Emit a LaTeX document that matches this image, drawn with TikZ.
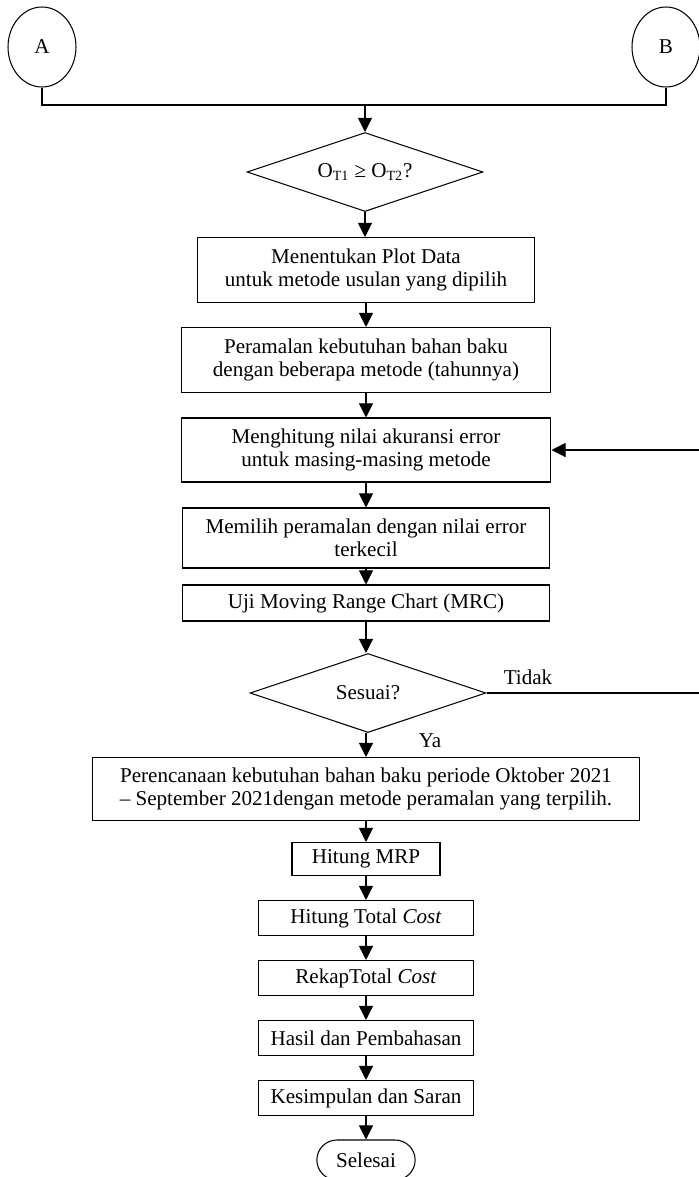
\documentclass[tikz,border=0pt]{standalone}
\usepackage{fontspec}
\setmainfont{Liberation Serif}
\usetikzlibrary{positioning,shapes,shapes.geometric,shapes.misc,arrows.meta,calc}

\tikzset{
	proses/.style={draw, rectangle, align=center, inner sep=1pt, line width=0.6pt},
	keputusan/.style={draw, diamond, aspect=3, inner sep=0pt, line width=0.6pt, minimum width=4.72cm, minimum height=1.58cm},
	konektor/.style={draw, ellipse, minimum width=1.36cm, minimum height=1.6cm, line width=0.6pt},
	terminal/.style={draw, rounded rectangle, line width=0.6pt, minimum width=2.2cm, minimum height=0.8cm},
	panah/.style={-{Triangle[length=8pt,width=8pt]}, line width=0.6pt}
}

\begin{document}
\begin{tikzpicture}[x=0.02cm, y=-0.02cm, font=\fontsize{12}{13.2}\selectfont]

\useasboundingbox (0,0) rectangle (698,1177);

% penghubung dari halaman sebelumnya
\node[konektor] (A) at (42,47) {A};
\node[konektor] (B) at (666,47) {B};
\coordinate (gabung) at (365,105);

\draw[line width=0.6pt] (A) |- (gabung) -| (B);

\node[keputusan] (cek) at (365,172) {O\textsubscript{T1} ≥ O\textsubscript{T2}?};

\node[proses, minimum width=6.76cm, minimum height=1.3cm] (plot) at (366,270) {Menentukan Plot Data\\ untuk metode usulan yang dipilih};
\node[proses, minimum width=7.4cm, minimum height=1.3cm] (ramal) at (366,360) {Peramalan kebutuhan bahan baku\\dengan beberapa metode (tahunnya)};
\node[proses, minimum width=7.4cm, minimum height=1.28cm] (akurasi) at (366,450) {Menghitung nilai akuransi error\\untuk masing-masing metode};
\node[proses, minimum width=7.36cm, minimum height=1.2cm] (pilih) at (366,538) {Memilih peramalan dengan nilai error\\terkecil};
\node[proses, minimum width=7.36cm, minimum height=0.72cm] (uji) at (366,603) {Uji Moving Range Chart (MRC)};

\node[keputusan] (sesuai) at (368,693) {Sesuai?};
\node (tidak) at (528,677) {Tidak};
\node (ya) at (430,741) {Ya};

\node[proses, minimum width=10.96cm, minimum height=1.26cm] (rencana) at (366,789) {Perencanaan kebutuhan bahan baku periode Oktober 2021\\– September 2021dengan metode peramalan yang terpilih.};

\node[proses, minimum width=2.96cm, minimum height=0.66cm] (mrp) at (366,859) {Hitung MRP};
\node[proses, minimum width=4.3cm, minimum height=0.7cm] (total) at (366,918) {Hitung Total \textit{Cost}};
\node[proses, minimum width=4.3cm, minimum height=0.7cm] (rekap) at (366,978) {RekapTotal \textit{Cost}};
\node[proses, minimum width=4.3cm, minimum height=0.7cm] (hasil) at (366,1038) {Hasil dan Pembahasan};
\node[proses, minimum width=4.3cm, minimum height=0.7cm] (simpul) at (366,1098) {Kesimpulan dan Saran};

\node[terminal] (selesai) at (366,1160) {Selesai};

\draw[panah] (gabung) -- (cek);

\foreach \dari/\ke in {cek/plot, plot/ramal, ramal/akurasi, akurasi/pilih, pilih/uji, rencana/mrp, mrp/total, total/rekap, rekap/hasil, hasil/simpul, simpul/selesai}
	\draw[panah] (\dari.south) -- (\dari.south |- \ke.north);

\draw[panah] (uji.south) -- (uji.south |- sesuai.north);
\draw[panah] (uji.south |- sesuai.south) -- (uji.south |- rencana.north);

% jalur kembali bila tidak sesuai
\coordinate (balik) at (703,693);
\draw[panah] (sesuai) -- (balik) |- (akurasi);

\end{tikzpicture}
\end{document}
